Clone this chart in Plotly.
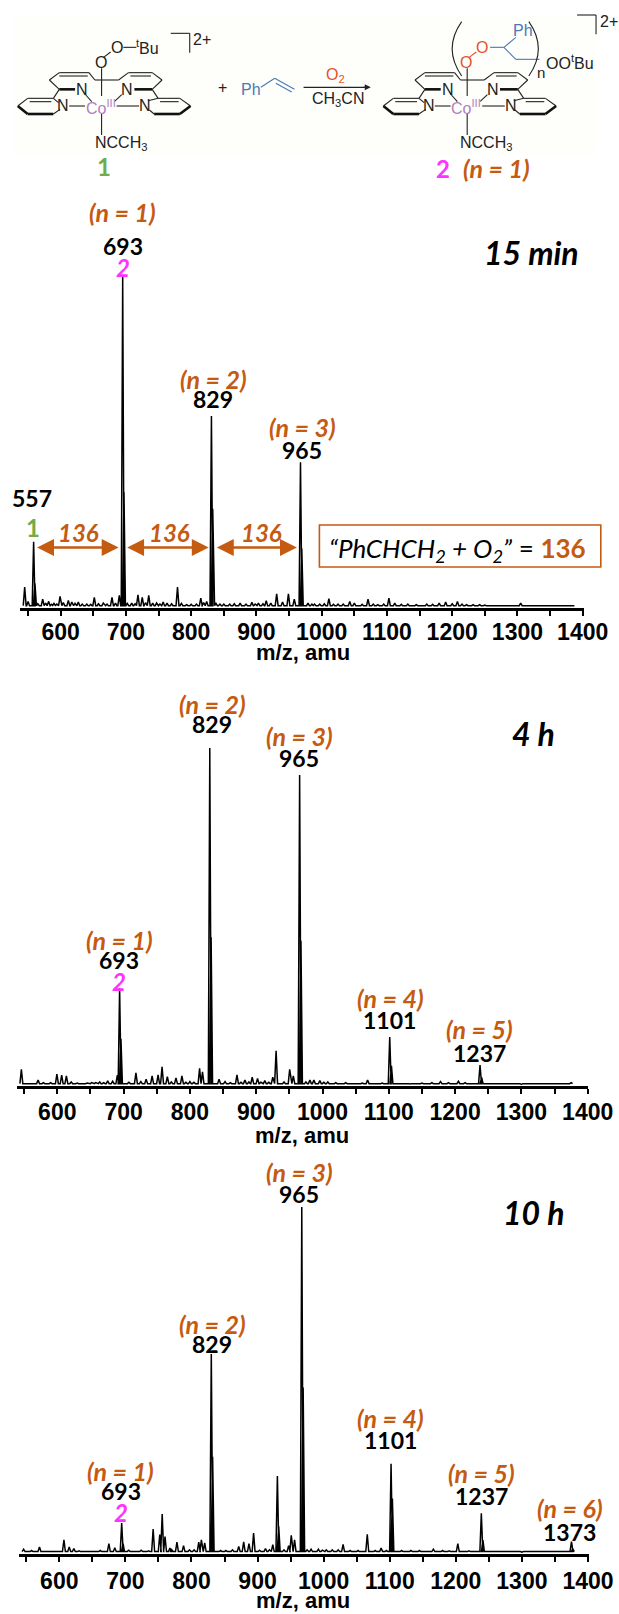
import plotly.graph_objects as go

W, H = 619, 1614
BROWN = "#c55a11"
GREEN = "#70ad47"
MAGENTA = "#ff33ff"
PURPLE = "#b27fc0"
BLUE = "#4a78b8"
RED = "#e8502a"

# ---------- data: m/z and relative intensity ----------
TICK_VALUES = list(range(550, 1401, 50))
TICK_LABELS = [str(v) if v % 100 == 0 else "" for v in TICK_VALUES]

MZ_15MIN = [544.8, 558.5, 560.5, 572.4, 581.6, 589.7, 599, 611.7, 627, 640, 651.5, 665.3, 678.6, 689.8, 695, 697,
            708.8, 718.4, 725, 734.9, 747, 757, 779, 793, 814.7, 823.7, 831, 833, 844, 859, 875, 893, 903, 915,
            931, 949, 958, 967.5, 969.5, 979, 989, 997, 1011, 1025, 1043, 1071, 1086, 1103, 1132, 1161, 1180,
            1190, 1208, 1222, 1242, 1258, 1305, 1350, 1385,
            550, 565, 577, 586, 594, 604, 617, 622, 633, 646, 658, 671, 684, 702, 714, 730, 741, 752, 763, 770, 785,
            800, 808, 819, 838, 850, 866, 884, 898, 910, 922, 940, 985, 1004, 1018, 1033, 1050, 1062, 1079, 1095,
            1112, 1122, 1145, 1170, 1200, 1215, 1232, 1250, 1270, 1290, 1320, 1340, 1370]
INT_15MIN = [6.3, 20, 7.5, 2.7, 2, 1.4, 3.5, 2.3, 1.8, 1.2, 3.2, 1.5, 3.2, 3.8, 100, 35,
             1.5, 4, 3.2, 3.8, 1.5, 1.8, 6.3, 1, 3, 2, 58, 30, 1.2, 1.2, 1.5, 1.7, 1.5, 2.2,
             4.3, 4.3, 2.7, 44, 18, 1.5, 1.2, 1.2, 2.8, 1.2, 2, 2.7, 1, 3, 1.2, 1.2, 1.5,
             1.8, 2, 1, 1, .8, 1.5, .6, .7,
             2, 1.3, 1.5, 1.1, 1.2, 1.6, 1.8, 1.4, 1.2, 1.1, 1.3, 1.2, 1.5, 1.4, 1.3, 1.6, 1.5, 1.2, 1.5, 1.3, 1.4,
             1.1, 1.2, 1.6, 1.4, 1.2, 1.3, 1.2, 1.2, 1.3, 1.5, 1.8, 1.2, 1.3, 1.1, 1.2, 1.5, 1.1, 1.2, 1.2,
             1.5, 1.1, 1, 1.1, 1.3, 1.2, 1, .9, .8, .9, .8, .8, .8]

MZ_4H = [545.8, 571, 579, 599.4, 606.6, 613.7, 621, 639, 652, 664, 676, 683.5, 690.6, 694, 696, 718.6, 734, 743, 752,
         758, 766, 779, 788, 800, 814.6, 819, 830, 832, 844, 853, 871, 883, 894, 902, 913, 925, 930, 950.5, 956,
         965.5, 967.5, 981, 987, 996, 1008, 1050, 1068, 1080, 1101.4, 1104, 1132, 1178, 1205, 1237.6, 1240, 1300,
         1375,
         560, 590, 630, 645, 658, 670, 708, 726, 772, 794, 806, 861, 877, 889, 907, 919, 942, 975, 1002, 1020, 1035,
         1060, 1090, 1120, 1150, 1165, 1190, 1215, 1255, 1280, 1320, 1350]
INT_4H = [4.9, 1.8, 1, 3.5, 3.2, 3, 1.2, .6, 1, 1.2, 1.5, 1.4, 3.2, 29, 14, 3.9, 2, 3, 3.3,
          5.7, 2.8, 2.4, 3, 1.3, 5.2, 4.2, 100, 44, 2, 1.3, 3.3, 1.8, 2.6, 2.2, 1.6, 2.6, 10.4, 4.9, 3,
          92, 43, 1.8, 1.8, 1.6, 1.2, .8, 1.8, .8, 14.5, 6, .6, 1.3, 1.4, 6.2, 2.5, .5, 1,
          .9, 1, .9, .9, 1, 1, 1.1, 1.3, 1.2, 1.1, 1.1, 1, 1.1, 1.2, 1.1, 1.1, 1.2, 1.2, 1.1, 1, 1,
          .9, .9, .9, .9, 1, 1, 1, .8, .8, .8, .8]

MZ_10H = [546, 570, 579, 607, 615, 622, 639, 675, 684, 694.4, 696.5, 714, 735, 742, 752, 755.7, 760, 767.4, 778, 788, 797,
          811, 815, 820, 830, 832, 844, 871.5, 879, 887, 894, 912, 923, 930, 932, 947, 951, 956, 966.9, 969,
          981, 992, 1004, 1013, 1022, 1029.4, 1066, 1087, 1102, 1104, 1132, 1166, 1203, 1238.6, 1241, 1300, 1375, 1377,
          558, 590, 600, 630, 650, 662, 705, 724, 770, 804, 852, 862, 903, 918, 940, 975, 998, 1040, 1052, 1078,
          1095, 1118, 1145, 1180, 1190, 1220, 1260, 1280, 1320, 1350]
INT_10H = [1.4, 2, .9, 4.1, 2, 1.6, .9, 3, 1.8, 8.9, 3, .7, .9, 7.2, 5.6, 11.5, 5, 1.7, 3.4, 2.4, 1.2,
           3.4, 4.1, 3.2, 57.6, 28, 1, 2.2, 3.5, 3, 6, 1.6, 2.7, 22.5, 8, 2.4, 5.4, 4.1, 100, 48,
           1.4, 1.4, 1.2, 1.2, 1.2, 2.8, 5.7, 1.7, 26, 16, 1, 1.4, 3, 11.7, 4, .5, 3.6, 1.5,
           1, .9, .9, .9, .9, 1, 1.1, 1.1, 1.3, 1.2, 1, 1.2, 1.1, 1.2, 1.2, 1.2, 1.1, 1, 1, 1,
           1, 1, 1, 1, .9, .9, .8, .8, .8, .8]

# pixel frame of each panel: left, right, baseline, px for 100 %, tick 600, tick 1400, label shift, title row
PANELS = [
    dict(mz=MZ_15MIN, i=INT_15MIN, left=20, right=584, base=608, full=331, t600=60.7, t1400=582.7,
         shift=-3, title_x=303, title_y=652),
    dict(mz=MZ_4H, i=INT_4H, left=16.6, right=588, base=1086, full=338, t600=57.3, t1400=587.7,
         shift=-1, title_x=302, title_y=1135),
    dict(mz=MZ_10H, i=INT_10H, left=19, right=588.5, base=1554, full=347, t600=59.3, t1400=588,
         shift=0, title_x=303, title_y=1600),
]
FLOOR = 0.7


def profile(mz, ints, half=2.2):
    xs, ys = [], []
    for m, v in sorted(zip(mz, ints)):
        xs += [m - half, m, m + half]
        ys += [FLOOR, v, FLOOR]
    return xs, ys


fig = go.Figure()
layout_axes = {}
for n, p in enumerate(PANELS, start=1):
    suffix = "" if n == 1 else str(n)
    xs, ys = profile(p["mz"], p["i"])
    fig.add_trace(go.Scatter(x=xs, y=ys, mode="lines", line=dict(color="black", width=1.5),
                             xaxis="x" + suffix, yaxis="y" + suffix, showlegend=False, hoverinfo="skip"))
    scale = (p["t1400"] - p["t600"]) / 800
    x0 = 600 + (p["left"] - p["t600"]) / scale
    x1 = 600 + (p["right"] - p["t600"]) / scale
    layout_axes["xaxis" + suffix] = dict(
        domain=[p["left"] / W, p["right"] / W], range=[x0, x1], anchor="y" + suffix, automargin=False,
        tickmode="array", tickvals=TICK_VALUES, ticktext=TICK_LABELS, ticks="outside", ticklen=5, tickwidth=2,
        tickcolor="black", showline=True, linewidth=2.5, linecolor="black", showgrid=False, zeroline=False,
        tickangle=0, ticklabelstandoff=p["shift"],
        tickfont=dict(family="Liberation Sans", size=23, color="black", weight=700))
    layout_axes["yaxis" + suffix] = dict(
        domain=[1 - p["base"] / H, 1 - (p["base"] - p["full"] * 1.06) / H], range=[0, 106], automargin=False,
        anchor="x" + suffix, visible=False, fixedrange=True)


# ---------- annotations ----------
ann = []


def text(s, x, y, size=20, color="black", bold=False, italic=False, family="Lato", weight=None):
    t = s
    if italic:
        t = "<i>" + t + "</i>"
    if bold:
        t = "<b>" + t + "</b>"
    font = dict(family=family, size=size, color=color)
    if weight:
        font["weight"] = weight
    ann.append(dict(text=t, x=x / W, y=1 - y / H, xref="paper", yref="paper", xanchor="center", yanchor="middle",
                    showarrow=False, font=font))


for p in PANELS:
    text("m/z, amu", p["title_x"], p["title_y"], size=22, bold=True, family="Liberation Sans")


def peak_label(n_text, nx, ny, num, mx, my):
    text(n_text, nx, ny, size=25, color=BROWN, bold=True, italic=True)
    text(num, mx, my, size=23, color="black", bold=True)


peak_label("(n = 1)", 122.5, 212, "693", 122.5, 246)
text("2", 122.5, 267, size=24, color=MAGENTA, bold=True, italic=True)
peak_label("(n = 2)", 213.4, 379, "829", 213, 399)
peak_label("(n = 3)", 302, 427, "965", 302, 450)
text("15 min", 531, 253, size=32, bold=True, italic=True)
text("557", 32, 498, size=23, bold=True)
text("1", 33, 528, size=24, color=GREEN, bold=True)
for x136 in (78, 170, 261):
    text("136", x136, 533, size=24, color=BROWN, bold=True, italic=True)
text("<i>“PhCHCH<sub>2</sub> + O<sub>2</sub>”</i> = <b><span style='color:%s'>136</span></b>" % BROWN,
     457, 549, size=26)

peak_label("(n = 2)", 212, 704, "829", 211.5, 724)
peak_label("(n = 3)", 299.6, 736, "965", 298.8, 758)
peak_label("(n = 1)", 119.4, 940, "693", 118.6, 960)
text("2", 119, 981, size=24, color=MAGENTA, bold=True, italic=True)
peak_label("(n = 4)", 390.5, 998, "1101", 389.7, 1020)
peak_label("(n = 5)", 479.4, 1029, "1237", 479.4, 1053)
text("4 h", 533.6, 734, size=32, bold=True, italic=True)

peak_label("(n = 3)", 299.6, 1172, "965", 299, 1194)
peak_label("(n = 2)", 212, 1324, "829", 211.5, 1344)
peak_label("(n = 4)", 390.5, 1418, "1101", 390, 1440)
peak_label("(n = 1)", 120.5, 1471, "693", 120.5, 1491)
text("2", 120.5, 1512, size=24, color=MAGENTA, bold=True, italic=True)
peak_label("(n = 5)", 481.4, 1473, "1237", 481.4, 1496)
peak_label("(n = 6)", 570, 1508, "1373", 569.6, 1532)
text("10 h", 533, 1212, size=32, bold=True, italic=True)

# double-headed arrows in data coordinates of the first panel
ARROW_FROM = [561.5, 699.6, 837]
ARROW_TO = [688.7, 826.8, 962]
ARROW_LEVEL = 18.3
for a, b in zip(ARROW_FROM, ARROW_TO):
    ann.append(dict(x=b, y=ARROW_LEVEL, ax=a, ay=ARROW_LEVEL, xref="x", yref="y", axref="x", ayref="y", text="",
                    showarrow=True, arrowhead=2, arrowside="end+start", arrowsize=1.3, arrowwidth=2.6,
                    arrowcolor=BROWN))

# ---------- reaction scheme ----------
shapes = []
SX, SY = 2.53, 3.0   # scheme sketch units to page pixels


def px(X):
    return X / SX / W


def py(Y):
    return 1 - Y / SY / H


def seg(pts, width=1.1, color="#222222", dx=0):
    for (a, b), (c, d) in zip(pts[:-1], pts[1:]):
        shapes.append(dict(type="line", xref="paper", yref="paper", x0=px(a + dx), y0=py(b), x1=px(c + dx), y1=py(d),
                           line=dict(color=color, width=width), layer="above"))


def stx(s, X, Y, size=16, color="#222222", dx=0, family="Liberation Sans"):
    text(s, (X + dx) / SX, Y / SY, size=size, color=color, family=family)


def core(dx, co_x):
    thin = [
        [(125, 240), (150, 218), (225, 218), (240, 240)],
        [(150, 268), (125, 240)],
        [(45, 318), (70, 295), (135, 295)],
        [(150, 268), (135, 295), (148, 308)],
        [(300, 240), (325, 218), (385, 218), (410, 240), (385, 268)],
        [(385, 268), (400, 295), (455, 295), (482, 318)],
        [(240, 240), (300, 240)],
        [(175, 318), (215, 318)],
        [(295, 318), (352, 318)],
        [(375, 302), (400, 295)],
        [(135, 342), (152, 328)],
        [(390, 342), (378, 330)],
        [(215, 282), (232, 305)],
        [(308, 284), (290, 304)],
        [(150, 228), (222, 228)],
        [(330, 228), (382, 228)],
        [(75, 305), (130, 305)],
        [(405, 305), (452, 305)],
    ]
    thick = [
        [(150, 268), (190, 268)],
        [(340, 268), (385, 268)],
        [(45, 318), (70, 342), (135, 342)],
        [(390, 342), (455, 342), (482, 318)],
    ]
    for t in thin:
        seg(t, dx=dx)
    for t in thick:
        seg(t, width=2.6, color="#111111", dx=dx)
    seg([(257, 205), (257, 288)], dx=dx)
    seg([(257, 340), (257, 405)], dx=dx)
    stx("N", 208, 268, dx=dx)
    stx("N", 322, 268, dx=dx)
    stx("N", 160, 318, dx=dx)
    stx("N", 368, 318, dx=dx)
    stx("Co<sup>III</sup>", co_x, 322, color=PURPLE, dx=dx)
    stx("NCCH<sub>3</sub>", 305, 432, dx=dx)


# cream background of the scheme
shapes.append(dict(type="rect", xref="paper", yref="paper", x0=14 / W, x1=596 / W, y0=1 - 155 / H, y1=1 - 15 / H,
                   fillcolor="#fefefb", line=dict(width=0), layer="below"))

core(0, 255)
core(925, 255)

# complex 1 ligand
stx("O", 255, 188)
stx("O", 295, 142)
stx("<sup>t</sup>Bu", 372, 142)
seg([(262, 172), (280, 156)])
seg([(312, 142), (345, 142)])
seg([(432, 100), (480, 100), (480, 158)])
stx("2+", 512, 118)

# reagent and arrow
stx("+", 562, 262)
stx("Ph", 635, 268, color=BLUE)
seg([(660, 262), (695, 235), (745, 268)], color=BLUE)
seg([(698, 250), (738, 276)], color=BLUE)
seg([(768, 262), (925, 262)], width=1.2)
ann.append(dict(x=px(938), y=py(262), ax=-9, ay=0, xref="paper", yref="paper", text="", showarrow=True,
                arrowhead=2, arrowsize=1, arrowwidth=1.2, arrowcolor="#222222", standoff=0))
stx("O<sub>2</sub>", 848, 226, color=RED)
stx("CH<sub>3</sub>CN", 855, 298)

# complex 2 ligand
stx("O", 1180, 188, color=RED)
stx("O", 1220, 142, color=RED)
seg([(1187, 172), (1205, 156)], color=RED)
seg([(1240, 142), (1275, 142), (1305, 178), (1365, 178)], color=BLUE)
seg([(1275, 142), (1305, 112)], color=BLUE)
stx("Ph", 1322, 93, color=BLUE)
stx("OO<sup>t</sup>Bu", 1442, 185)
stx("n", 1368, 218, size=15)
for path in ("M %f %f Q %f %f %f %f" % (px(1168), py(65), px(1120), py(146), px(1168), py(228)),
             "M %f %f Q %f %f %f %f" % (px(1338), py(65), px(1386), py(146), px(1338), py(228))):
    shapes.append(dict(type="path", xref="paper", yref="paper", path=path, line=dict(color="#222222", width=1.1),
                       layer="above"))
seg([(1460, 45), (1508, 45), (1508, 103)])
stx("2+", 1540, 65)

# scheme compound labels
text("1", 263 / SX, 500 / SY, size=24, color=GREEN, bold=True)
text("2", 1120 / SX, 505 / SY, size=24, color=MAGENTA, bold=True)
text("(n = 1)", 1255 / SX, 505 / SY, size=25, color=BROWN, bold=True, italic=True)

# formula box
shapes.append(dict(type="rect", xref="paper", yref="paper", x0=319.4 / W, x1=600.8 / W, y0=1 - 567 / H, y1=1 - 525 / H,
                   line=dict(color=BROWN, width=1.6), fillcolor="rgba(0,0,0,0)"))

fig.update_layout(width=W, height=H, margin=dict(l=0, r=0, t=0, b=0), paper_bgcolor="white", plot_bgcolor="white",
                  showlegend=False, annotations=ann, shapes=shapes, **layout_axes)
fig.write_html("out.html", config=dict(displayModeBar=False),
               post_script="document.body.style.margin='0';document.documentElement.style.overflow='hidden';")
